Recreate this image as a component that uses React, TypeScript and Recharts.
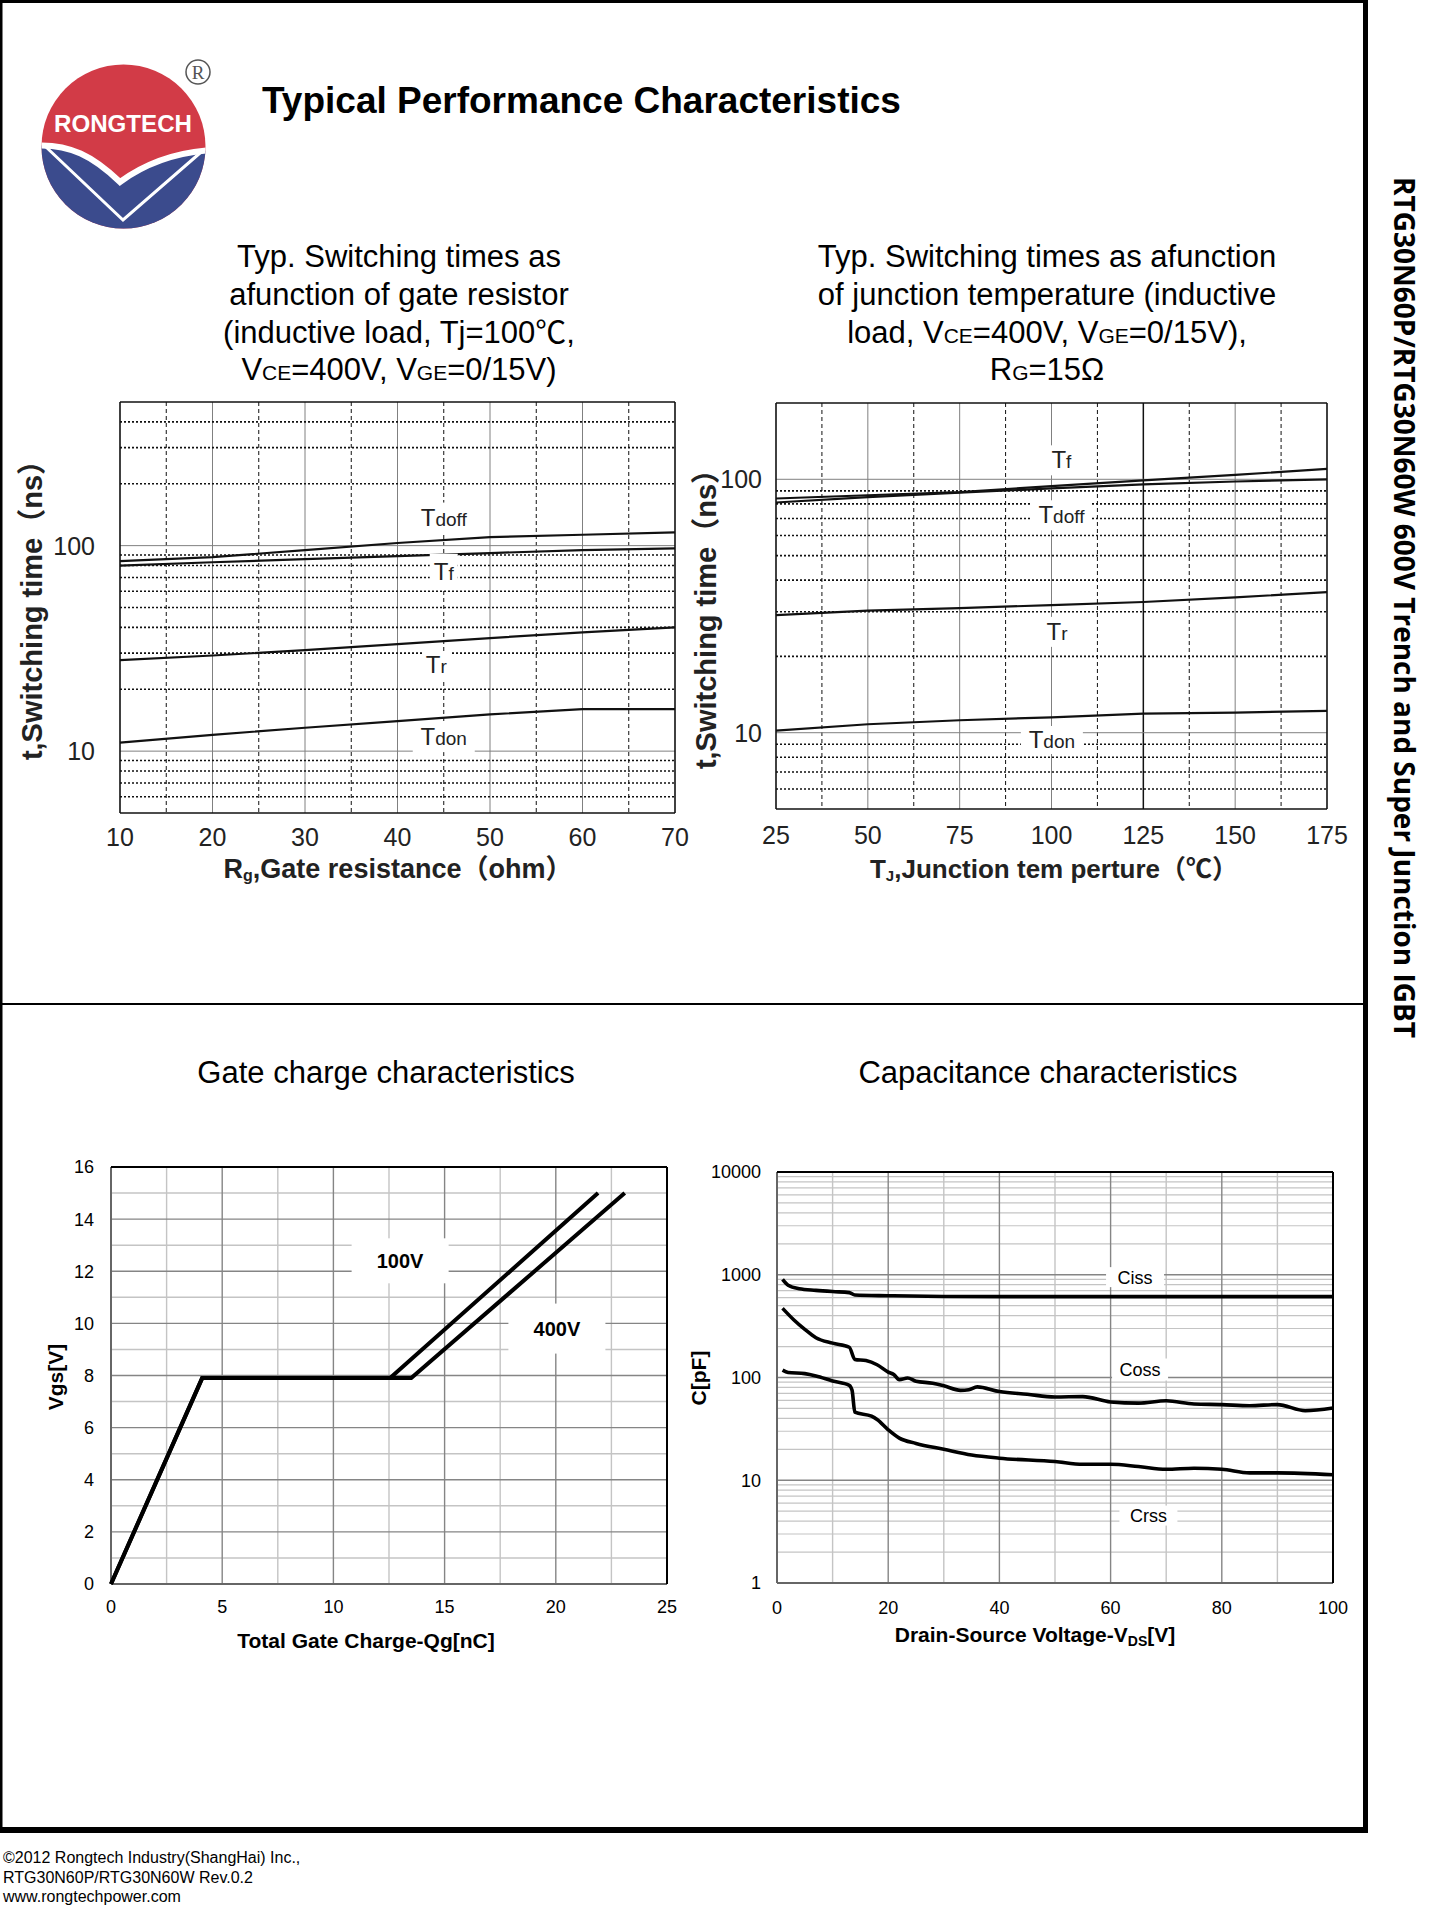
import { LineChart, Line, XAxis, YAxis, CartesianGrid, ReferenceDot } from "recharts";

// ── Fonts ─────────────────────────────────────────────────────────────────────
const FONT = '"Liberation Sans", Arial, Helvetica, "Noto Sans CJK SC", sans-serif';
const SIDE_FONT = '"Open Sans", "DejaVu Sans", sans-serif';

// ── Chart 1: switching times vs gate resistor ────────────────────────────────
const rgOhm = [10, 20, 30, 40, 50, 60, 70];
const rgTdoff = [84, 88, 95, 103, 110, 113, 116];
const rgTf = [80, 83, 86, 89, 92, 95, 97];
const rgTr = [27.7, 29.2, 31, 33.2, 35.5, 37.8, 40];
const rgTdon = [11.0, 12.0, 13.0, 14.0, 15.1, 16.0, 16.0];
const rgTags = [
  { id: "Tdoff", sub: "doff", x: 45, y: 137, w: 60, h: 30 },
  { id: "Tf", sub: "f", x: 45, y: 74.6, w: 28, h: 36 },
  { id: "Tr", sub: "r", x: 44.2, y: 26.2, w: 28, h: 28 },
  { id: "Tdon", sub: "don", x: 45, y: 11.7, w: 62, h: 30 },
];

// ── Chart 2: switching times vs junction temperature ─────────────────────────
const tjC = [25, 50, 75, 100, 125, 150, 175];
const tjTf = [84, 86.5, 89, 94, 99, 104, 110];
const tjTdoff = [81, 85, 88.5, 92, 95.5, 98, 100];
const tjTr = [29.1, 30.3, 31, 31.9, 32.8, 34.2, 35.9];
const tjTdon = [10.2, 10.8, 11.2, 11.5, 11.9, 12.0, 12.2];
const tjTags = [
  { id: "Tf", sub: "f", x: 102.7, y: 118.8, w: 30, h: 30 },
  { id: "Tdoff", sub: "doff", x: 102.7, y: 72.1, w: 60, h: 30 },
  { id: "Tr", sub: "r", x: 101.5, y: 25, w: 30, h: 30 },
  { id: "Tdon", sub: "don", x: 100.1, y: 9.36, w: 62, h: 28 },
];

// ── Chart 3: gate charge ─────────────────────────────────────────────────────
const qg100 = [0, 4.1, 12.55, 21.9];
const vgs100 = [0, 7.9, 7.9, 15];
const qg400 = [0, 4.1, 13.5, 23.1];
const vgs400 = [0, 7.9, 7.9, 15];
const qgTicks = [0, 5, 10, 15, 20, 25];
const vgsTicks = [0, 2, 4, 6, 8, 10, 12, 14, 16];
const qgTags = [
  { id: "100V", x: 13.0, y: 12.4, w: 97, h: 45 },
  { id: "400V", x: 20.05, y: 9.8, w: 97, h: 50 },
];

// ── Chart 4: capacitance ─────────────────────────────────────────────────────
const vdsCiss = [1, 2, 4, 7, 10, 13, 14, 20, 30, 50, 100];
const ciss = [900, 790, 730, 705, 686, 670, 635, 625, 615, 612, 612];
const vdsCoss = [1, 3, 5, 7, 10, 13, 14, 16, 18, 20, 21, 22, 23.5, 25, 28, 30, 33, 34.5, 36, 40, 45, 50, 55, 60, 65, 70, 75, 80, 85, 90, 95, 100];
const coss = [471, 365, 294, 244, 216, 197, 150, 146, 133, 113, 107, 95, 99, 92, 88, 83, 75, 76, 81, 73, 68.6, 64.6, 65.2, 57.8, 56.3, 59.3, 55.3, 54.5, 53.1, 54.5, 47.5, 50.4];
const vdsCrss = [1, 2, 5, 7, 10, 13, 13.5, 14, 17, 18, 20, 22, 25, 30, 35, 40, 50, 55, 60, 65, 70, 75, 80, 85, 90, 100];
const crss = [118, 112, 109, 103.5, 92.6, 84, 75, 46, 42, 39, 31, 25.7, 22.8, 20, 17.6, 16.4, 15.2, 14.3, 14.3, 13.6, 12.8, 13.1, 12.8, 11.8, 11.8, 11.3];
const vdsTicks = [0, 20, 40, 60, 80, 100];
const capTicks = [1, 10, 100, 1000, 10000];
const capTags = [
  { id: "Ciss", x: 64.4, y: 948, w: 58, h: 20 },
  { id: "Coss", x: 65.3, y: 119.6, w: 56, h: 22 },
  { id: "Crss", x: 66.8, y: 4.53, w: 58, h: 20 },
];

// ── Grid positions ───────────────────────────────────────────────────────────
const rgGridSolid = [20, 30, 40, 50, 60];
const rgGridDash = [15, 25, 35, 45, 55, 65];
const tjGridSolid = [50, 75, 100, 150];
const tjGridDash = [37.5, 62.5, 87.5, 112.5, 137.5, 162.5];
const swDecades = [10, 100];
const swDots1 = [6, 7, 8, 9, 20, 30, 40, 50, 60, 70, 80, 90, 200, 300, 400];
const swDots2 = [6, 7, 8, 9, 20, 30, 40, 50, 60, 70, 80, 90];
const capMinor = [2, 3, 4, 5, 6, 7, 8, 9, 20, 30, 40, 50, 60, 70, 80, 90, 200, 300, 400, 500, 600, 700, 800, 900, 2000, 3000, 4000, 5000, 6000, 7000, 8000, 9000];

const pts = (xs: number[], ys: number[]) => xs.map((x, i) => ({ x, y: ys[i] }));

// ── Helpers ──────────────────────────────────────────────────────────────────
function SwTag({ cx, cy, tag }: any) {
  return (
    <g>
      <rect x={cx - tag.w / 2} y={cy - tag.h / 2} width={tag.w} height={tag.h} fill="#fff" />
      <text x={cx} y={cy + 8} textAnchor="middle" fontFamily={FONT} fill="#222">
        <tspan fontSize={24}>T</tspan>
        <tspan fontSize={19}>{tag.sub}</tspan>
      </text>
    </g>
  );
}

function BoxTag({ cx, cy, tag, size, bold }: any) {
  return (
    <g>
      <rect x={cx - tag.w / 2} y={cy - tag.h / 2} width={tag.w} height={tag.h} fill="#fff" />
      <text x={cx} y={cy + size * 0.36} textAnchor="middle" fontFamily={FONT} fontSize={size}
        fontWeight={bold ? "bold" : "normal"} fill="#000">{tag.id}</text>
    </g>
  );
}

const bigTick = { fill: "#222", fontSize: 25, fontFamily: FONT };
const smallTick = { fill: "#000", fontSize: 18, fontFamily: FONT };

// ── Main ─────────────────────────────────────────────────────────────────────
export default function App() {
  return (
    <div style={{ position: "relative", width: 1440, height: 1920, background: "#fff", overflow: "hidden" }}>
      <style>{"body{margin:0}"}</style>

      {/* Chart 1 */}
      <div style={{ position: "absolute", left: 0, top: 380 }}>
        <LineChart width={720} height={500} margin={{ top: 22, right: 45, bottom: 27, left: 0 }}>
          <CartesianGrid horizontal={false} verticalValues={rgGridSolid} stroke="#808080" strokeWidth={1} />
          <CartesianGrid horizontal={false} verticalValues={rgGridDash} stroke="#111" strokeDasharray="4 3" strokeWidth={1} />
          <CartesianGrid vertical={false} horizontalValues={swDecades} stroke="#808080" strokeWidth={1} />
          <CartesianGrid vertical={false} horizontalValues={swDots1} stroke="#111" strokeDasharray="2 2" strokeWidth={1.6} />
          <CartesianGrid horizontalValues={[5, 500]} verticalValues={[10, 70]} stroke="#111" strokeWidth={1.6} />
          <XAxis dataKey="x" type="number" domain={[10, 70]} ticks={rgOhm} axisLine={false} tickLine={false}
            tickSize={0} tickMargin={15} height={40} tick={bigTick} interval={0} />
          <YAxis type="number" scale="log" domain={[5, 500]} ticks={swDecades} allowDataOverflow axisLine={false}
            tickLine={false} tickSize={0} tickMargin={25} width={120} tick={bigTick} interval={0} />
          {[rgTdoff, rgTf, rgTr, rgTdon].map((ys, i) => (
            <Line key={i} data={pts(rgOhm, ys)} dataKey="y" type="linear" stroke="#111" strokeWidth={2.2}
              dot={false} activeDot={false} isAnimationActive={false} />
          ))}
          {rgTags.map((t) => (
            <ReferenceDot key={t.id} x={t.x} y={t.y} r={0} ifOverflow="visible"
              shape={(p: any) => <SwTag cx={p.cx} cy={p.cy} tag={t} />} />
          ))}
        </LineChart>
      </div>

      {/* Chart 2 */}
      <div style={{ position: "absolute", left: 680, top: 380 }}>
        <LineChart width={760} height={500} margin={{ top: 23, right: 113, bottom: 31, left: 0 }}>
          <CartesianGrid horizontal={false} verticalValues={tjGridSolid} stroke="#808080" strokeWidth={1} />
          <CartesianGrid horizontal={false} verticalValues={tjGridDash} stroke="#111" strokeDasharray="4 3" strokeWidth={1} />
          <CartesianGrid horizontal={false} verticalValues={[125]} stroke="#111" strokeWidth={1.5} />
          <CartesianGrid vertical={false} horizontalValues={swDecades} stroke="#808080" strokeWidth={1} />
          <CartesianGrid vertical={false} horizontalValues={swDots2} stroke="#111" strokeDasharray="2 2" strokeWidth={1.6} />
          <CartesianGrid horizontalValues={[5, 200]} verticalValues={[25, 175]} stroke="#111" strokeWidth={1.6} />
          <XAxis dataKey="x" type="number" domain={[25, 175]} ticks={tjC} axisLine={false} tickLine={false}
            tickSize={0} tickMargin={17} height={40} tick={bigTick} interval={0} />
          <YAxis type="number" scale="log" domain={[5, 200]} ticks={swDecades} allowDataOverflow axisLine={false}
            tickLine={false} tickSize={0} tickMargin={14} width={96} tick={bigTick} interval={0} />
          {[tjTf, tjTdoff, tjTr, tjTdon].map((ys, i) => (
            <Line key={i} data={pts(tjC, ys)} dataKey="y" type="linear" stroke="#111" strokeWidth={2.2}
              dot={false} activeDot={false} isAnimationActive={false} />
          ))}
          {tjTags.map((t) => (
            <ReferenceDot key={t.id} x={t.x} y={t.y} r={0} ifOverflow="visible"
              shape={(p: any) => <SwTag cx={p.cx} cy={p.cy} tag={t} />} />
          ))}
        </LineChart>
      </div>

      {/* Chart 3 */}
      <div style={{ position: "absolute", left: 0, top: 1100 }}>
        <LineChart width={720} height={560} margin={{ top: 67, right: 53, bottom: 36, left: 0 }}>
          <CartesianGrid horizontal={false} verticalValues={[2.5, 7.5, 12.5, 17.5, 22.5]} stroke="#c4c4c4" strokeWidth={1.4} />
          <CartesianGrid vertical={false} horizontalValues={[1, 3, 5, 7, 9, 11, 13, 15]} stroke="#c4c4c4" strokeWidth={1.4} />
          <CartesianGrid horizontal={false} verticalValues={[5, 10, 15, 20]} stroke="#858585" strokeWidth={1.4} />
          <CartesianGrid vertical={false} horizontalValues={[2, 4, 6, 8, 10, 12, 14]} stroke="#858585" strokeWidth={1.4} />
          <CartesianGrid horizontalValues={[0]} verticalValues={[0]} stroke="#666" strokeWidth={2} />
          <CartesianGrid horizontalValues={[16]} verticalValues={[25]} stroke="#000" strokeWidth={2} />
          <XAxis dataKey="x" type="number" domain={[0, 25]} ticks={qgTicks} axisLine={false} tickLine={false}
            tickSize={0} tickMargin={16} height={40} tick={smallTick} interval={0} />
          <YAxis type="number" domain={[0, 16]} ticks={vgsTicks} axisLine={false} tickLine={false}
            tickSize={0} tickMargin={17} width={111} tick={smallTick} interval={0} />
          {qgTags.map((t) => (
            <ReferenceDot key={t.id} x={t.x} y={t.y} r={0} ifOverflow="visible"
              shape={(p: any) => <BoxTag cx={p.cx} cy={p.cy} tag={t} size={20} bold />} />
          ))}
          <Line data={pts(qg100, vgs100)} dataKey="y" type="linear" stroke="#000" strokeWidth={4}
            dot={false} activeDot={false} isAnimationActive={false} />
          <Line data={pts(qg400, vgs400)} dataKey="y" type="linear" stroke="#000" strokeWidth={4}
            dot={false} activeDot={false} isAnimationActive={false} />
        </LineChart>
      </div>

      {/* Chart 4 */}
      <div style={{ position: "absolute", left: 680, top: 1100 }}>
        <LineChart width={760} height={560} margin={{ top: 72, right: 107, bottom: 37, left: 0 }}>
          <CartesianGrid horizontal={false} verticalValues={[10, 30, 50, 70, 90]} stroke="#c4c4c4" strokeWidth={1.4} />
          <CartesianGrid vertical={false} horizontalValues={capMinor} stroke="#c4c4c4" strokeWidth={1.2} />
          <CartesianGrid horizontal={false} verticalValues={[20, 40, 60, 80]} stroke="#858585" strokeWidth={1.4} />
          <CartesianGrid vertical={false} horizontalValues={[10, 100, 1000]} stroke="#858585" strokeWidth={1.6} />
          <CartesianGrid horizontalValues={[1]} verticalValues={[0]} stroke="#666" strokeWidth={2} />
          <CartesianGrid horizontalValues={[10000]} verticalValues={[100]} stroke="#000" strokeWidth={2} />
          <XAxis dataKey="x" type="number" domain={[0, 100]} ticks={vdsTicks} axisLine={false} tickLine={false}
            tickSize={0} tickMargin={18} height={40} tick={smallTick} interval={0} />
          <YAxis type="number" scale="log" domain={[1, 10000]} ticks={capTicks} allowDataOverflow axisLine={false}
            tickLine={false} tickSize={0} tickMargin={16} width={97} tick={smallTick} interval={0}
            tickFormatter={(v: number) => String(v)} />
          {capTags.map((t) => (
            <ReferenceDot key={t.id} x={t.x} y={t.y} r={0} ifOverflow="visible"
              shape={(p: any) => <BoxTag cx={p.cx} cy={p.cy} tag={t} size={18} />} />
          ))}
          <Line data={pts(vdsCiss, ciss)} dataKey="y" type="monotone" stroke="#000" strokeWidth={3.6}
            dot={false} activeDot={false} isAnimationActive={false} />
          <Line data={pts(vdsCoss, coss)} dataKey="y" type="monotone" stroke="#000" strokeWidth={3.6}
            dot={false} activeDot={false} isAnimationActive={false} />
          <Line data={pts(vdsCrss, crss)} dataKey="y" type="monotone" stroke="#000" strokeWidth={3.6}
            dot={false} activeDot={false} isAnimationActive={false} />
        </LineChart>
      </div>

      {/* Page furniture, titles and axis labels */}
      <svg width={1440} height={1920} style={{ position: "absolute", left: 0, top: 0, pointerEvents: "none" }}
        fontFamily={FONT}>
        {/* frame */}
        <line x1={1} y1={0} x2={1} y2={1832} stroke="#000" strokeWidth={3} />
        <line x1={0} y1={1.5} x2={1368} y2={1.5} stroke="#000" strokeWidth={3} />
        <line x1={1365.5} y1={0} x2={1365.5} y2={1833} stroke="#000" strokeWidth={5} />
        <line x1={0} y1={1830} x2={1368} y2={1830} stroke="#000" strokeWidth={6} />
        <line x1={0} y1={1004} x2={1365} y2={1004} stroke="#000" strokeWidth={2} />

        {/* logo */}
        <defs>
          <clipPath id="logoClip">
            <circle cx={123.5} cy={146.5} r={82} />
          </clipPath>
        </defs>
        <g clipPath="url(#logoClip)">
          <rect x={40} y={60} width={170} height={175} fill="#d23b47" />
          <path d="M 30 146 C 70 142, 95 158, 120 182 C 142 166, 172 152, 215 150 L 215 240 L 30 240 Z"
            fill="#3b4b8d" stroke="#fff" strokeWidth={6} />
          <polyline points="46,147 123,220 200,153" fill="none" stroke="#fff" strokeWidth={3} />
        </g>
        <text x={123} y={132} textAnchor="middle" fill="#fff" fontWeight="bold" fontSize={24}
          textLength={138} lengthAdjust="spacingAndGlyphs">RONGTECH</text>
        <circle cx={198} cy={72} r={12} fill="none" stroke="#555" strokeWidth={1.5} />
        <text x={198} y={79} textAnchor="middle" fontSize={19} fill="#555" fontFamily='"Liberation Serif", serif'>R</text>

        <text x={262} y={113} fontSize={37} fontWeight="bold" fill="#000">Typical Performance Characteristics</text>

        {/* chart 1 title */}
        <g fontSize={31} textAnchor="middle" fill="#000">
          <text x={399} y={267}>Typ. Switching times as</text>
          <text x={399} y={305}>afunction of gate resistor</text>
          <text x={399} y={343}>(inductive load, Tj=100℃,</text>
          <text x={399} y={380}>V<tspan fontSize={21}>CE</tspan>=400V, V<tspan fontSize={21}>GE</tspan>=0/15V)</text>
        </g>
        {/* chart 2 title */}
        <g fontSize={31} textAnchor="middle" fill="#000">
          <text x={1047} y={267}>Typ. Switching times as afunction</text>
          <text x={1047} y={305}>of junction temperature (inductive</text>
          <text x={1047} y={343}>load, V<tspan fontSize={21}>CE</tspan>=400V, V<tspan fontSize={21}>GE</tspan>=0/15V),</text>
          <text x={1047} y={380}>R<tspan fontSize={21}>G</tspan>=15Ω</text>
        </g>

        {/* chart 1 axis labels */}
        <text transform="translate(42,603) rotate(-90)" textAnchor="middle" fontSize={29} fontWeight="bold" fill="#222">
          t,Switching time（ns）
        </text>
        <text x={398} y={878} textAnchor="middle" fontSize={27} fontWeight="bold" fill="#222">
          R<tspan fontSize={16} dy={3}>g</tspan><tspan dy={-3}>,Gate resistance（ohm）</tspan>
        </text>
        {/* chart 2 axis labels */}
        <text transform="translate(716,612) rotate(-90)" textAnchor="middle" fontSize={29} fontWeight="bold" fill="#222">
          t,Switching time（ns）
        </text>
        <text x={1054} y={878} textAnchor="middle" fontSize={26} fontWeight="bold" fill="#222">
          T<tspan fontSize={15} dy={3}>J</tspan><tspan dy={-3}>,Junction tem perture（℃）</tspan>
        </text>

        {/* bottom titles */}
        <text x={386} y={1083} textAnchor="middle" fontSize={31} fill="#000">Gate charge characteristics</text>
        <text x={1048} y={1083} textAnchor="middle" fontSize={31} fill="#000">Capacitance characteristics</text>

        {/* chart 3 axis labels */}
        <text transform="translate(63,1377) rotate(-90)" textAnchor="middle" fontSize={21} fontWeight="bold" fill="#000">
          Vgs[V]
        </text>
        <text x={366} y={1648} textAnchor="middle" fontSize={21} fontWeight="bold" fill="#000">
          Total Gate Charge-Qg[nC]
        </text>
        {/* chart 4 axis labels */}
        <text transform="translate(706,1378) rotate(-90)" textAnchor="middle" fontSize={21} fontWeight="bold" fill="#000">
          C[pF]
        </text>
        <text x={1035} y={1642} textAnchor="middle" fontSize={21} fontWeight="bold" fill="#000">
          Drain-Source Voltage-V<tspan fontSize={14} dy={4}>DS</tspan><tspan dy={-4}>[V]</tspan>
        </text>

        {/* side text */}
        <text transform="translate(1394,177) rotate(90)" fontFamily={SIDE_FONT} fontSize={28} fontWeight="bold"
          fill="#000" textLength={861} lengthAdjust="spacingAndGlyphs">
          RTG30N60P/RTG30N60W 600V Trench and Super Junction IGBT
        </text>

        {/* footer */}
        <g fontSize={16} fill="#000">
          <text x={3} y={1863}>©2012 Rongtech Industry(ShangHai) Inc.,</text>
          <text x={3} y={1883}>RTG30N60P/RTG30N60W Rev.0.2</text>
          <text x={3} y={1902}>www.rongtechpower.com</text>
        </g>
      </svg>
    </div>
  );
}
